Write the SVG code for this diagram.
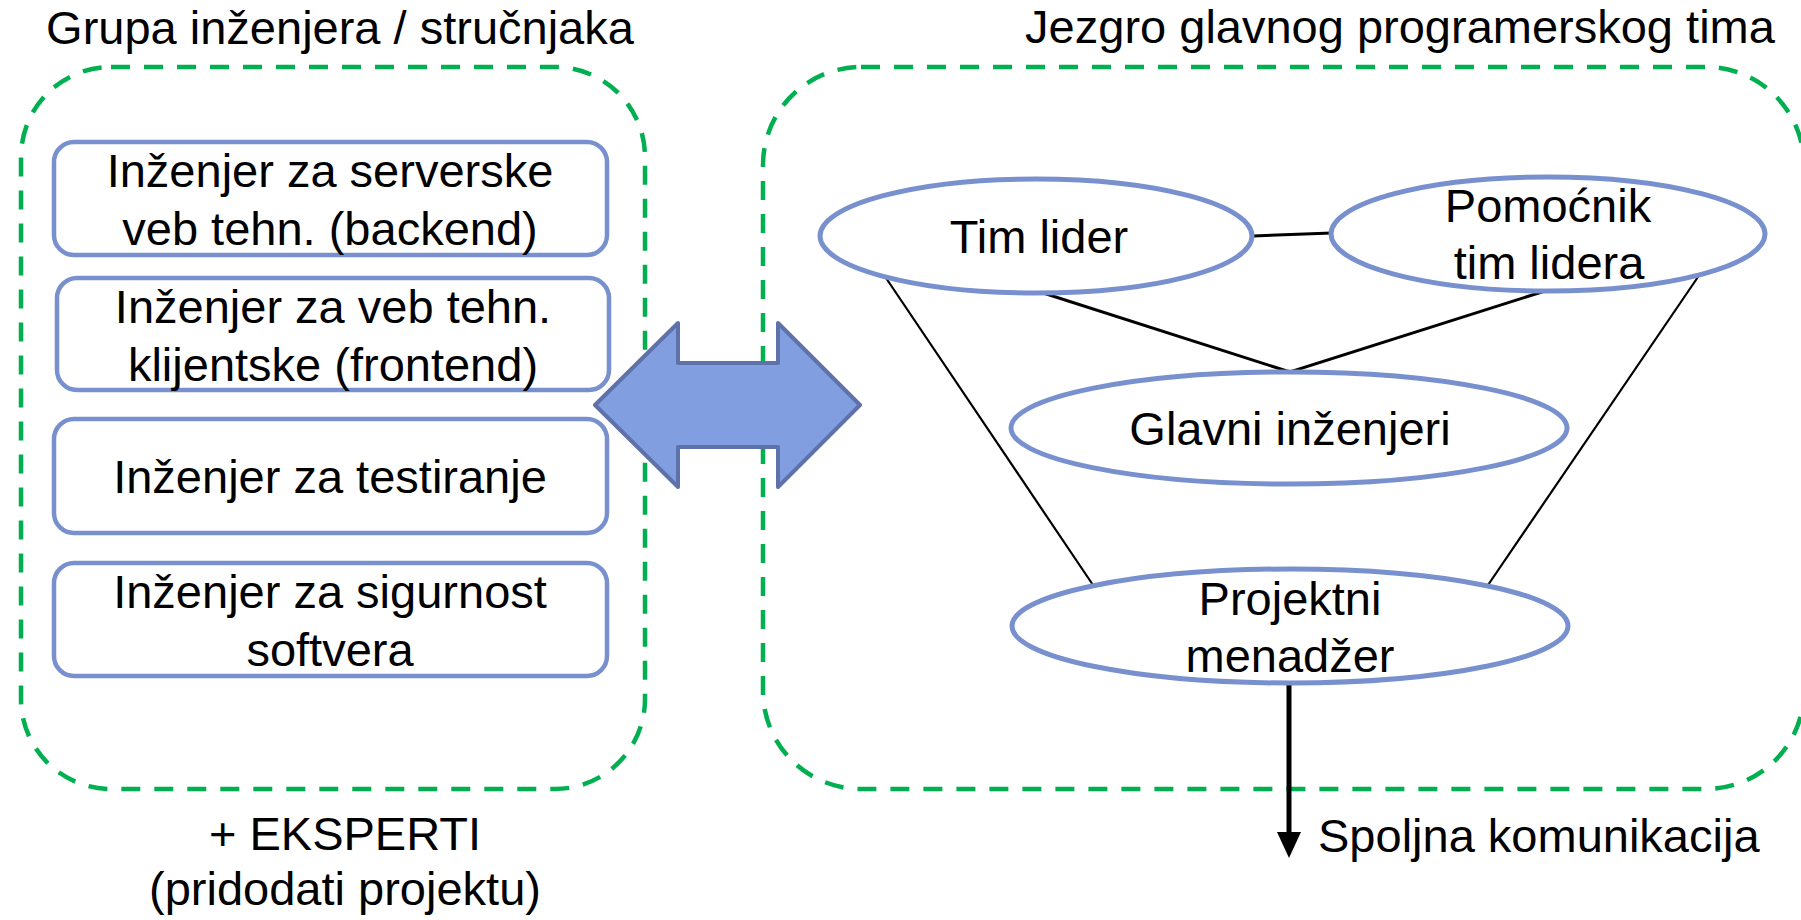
<svg xmlns="http://www.w3.org/2000/svg" width="1801" height="920" viewBox="0 0 1801 920">
  <style>
    text { font-family: "Liberation Sans", Arial, sans-serif; font-size: 47px; fill: #000; }
    .c { text-anchor: middle; }
    .group { fill: none; stroke: #00B050; stroke-width: 4.5; stroke-dasharray: 19 14; }
    .box { fill: #fff; stroke: #7891CE; stroke-width: 4.5; }
    .oval { fill: #fff; stroke: #7891CE; stroke-width: 5; }
    .link { stroke: #000; fill: none; }
  </style>
  <defs>
    <marker id="head" viewBox="0 0 10 10" refX="5" refY="10" markerWidth="5" markerHeight="5" markerUnits="strokeWidth" orient="auto-start-reverse">
      <path d="M0,0 L10,0 L5,10 Z" fill="#000"/>
    </marker>
  </defs>
  <rect width="1801" height="920" fill="#fff"/>

  <!-- group frames -->
  <g id="engineers-group">
    <rect class="group" x="21" y="67" width="624" height="722" rx="90" ry="90"/>
    <text class="c" x="340" y="44">Grupa inženjera / stručnjaka</text>
    <text class="c" x="345" y="850">+ EKSPERTI</text>
    <text class="c" x="345" y="905">(pridodati projektu)</text>
  </g>
  <g id="core-team-group">
    <rect class="group" x="763" y="67" width="1041" height="722" rx="98" ry="98"/>
    <text class="c" x="1400" y="43">Jezgro glavnog programerskog tima</text>
  </g>

  <!-- connectors -->
  <g id="connectors">
    <line class="link" stroke-width="3" x1="1253" y1="236" x2="1332" y2="233"/>
    <polyline class="link" stroke-width="3" points="1037,291 1290,372 1548,290"/>
    <line class="link" stroke-width="2.2" x1="884" y1="275" x2="1095" y2="588"/>
    <line class="link" stroke-width="2.2" x1="1700" y1="274" x2="1486" y2="588"/>
    <line class="link" stroke-width="5" x1="1289" y1="683" x2="1289" y2="836"/>
    <polygon points="1277,832 1301,832 1289,858" fill="#000"/>
    <polygon points="595,405 678,323 678,363 778,363 778,323 860,405 778,487 778,447 678,447 678,487" fill="#809EE0" stroke="#5E71A8" stroke-width="4" stroke-linejoin="round"/>
  </g>

  <!-- engineer boxes -->
  <g id="backend">
    <rect class="box" x="54" y="142" width="553" height="113" rx="20"/>
    <text class="c" x="330" y="187">Inženjer za serverske</text>
    <text class="c" x="330" y="245">veb tehn. (backend)</text>
  </g>
  <g id="frontend">
    <rect class="box" x="57" y="278" width="552" height="112" rx="20"/>
    <text class="c" x="333" y="323">Inženjer za veb tehn.</text>
    <text class="c" x="333" y="381">klijentske (frontend)</text>
  </g>
  <g id="testing">
    <rect class="box" x="54" y="419" width="553" height="114" rx="20"/>
    <text class="c" x="330" y="493">Inženjer za testiranje</text>
  </g>
  <g id="security">
    <rect class="box" x="54" y="563" width="553" height="113" rx="20"/>
    <text class="c" x="330" y="608">Inženjer za sigurnost</text>
    <text class="c" x="330" y="666">softvera</text>
  </g>

  <!-- core team roles -->
  <g id="team-lead">
    <ellipse class="oval" cx="1036" cy="236" rx="216" ry="57"/>
    <text class="c" x="1039" y="253">Tim lider</text>
  </g>
  <g id="assistant-lead">
    <ellipse class="oval" cx="1548" cy="234" rx="217" ry="57"/>
    <text class="c" x="1548" y="222">Pomoćnik</text>
    <text class="c" x="1549" y="279">tim lidera</text>
  </g>
  <g id="lead-engineers">
    <ellipse class="oval" cx="1289" cy="428" rx="278" ry="56"/>
    <text class="c" x="1290" y="445">Glavni inženjeri</text>
  </g>
  <g id="project-manager">
    <ellipse class="oval" cx="1290" cy="626" rx="278" ry="57"/>
    <text class="c" x="1290" y="615">Projektni</text>
    <text class="c" x="1290" y="672">menadžer</text>
  </g>
  <g id="external-label">
    <text x="1318" y="852">Spoljna komunikacija</text>
  </g>
</svg>
